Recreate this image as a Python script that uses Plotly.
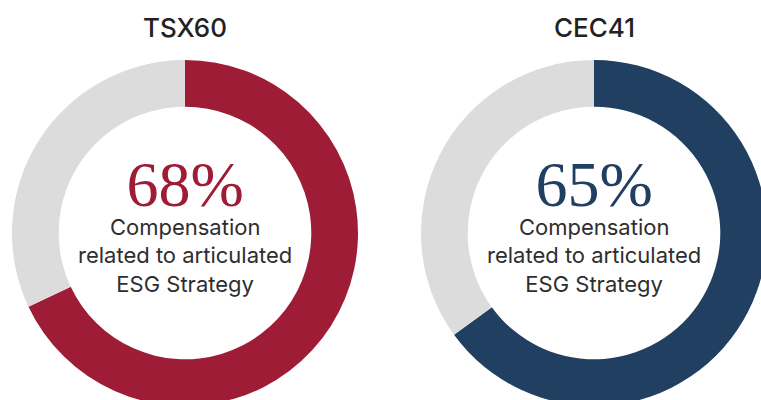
import plotly.graph_objects as go

titles = ["TSX60", "CEC41"]
percent_values = [68, 65]
main_colors = ["#9e1c35", "#213f60"]
rest_color = "#dcdcdc"
subtitle_lines = ["Compensation", "related to articulated", "ESG Strategy"]

W, H = 770, 410
R = 173
centers_px = [(185, 233), (594, 233)]

fig = go.Figure()
for i, (title, val, col) in enumerate(zip(titles, percent_values, main_colors)):
    cx, cy = centers_px[i]
    fig.add_trace(go.Pie(
        values=[val, 100 - val],
        labels=["Yes", "No"],
        marker=dict(colors=[col, rest_color], line=dict(width=0)),
        hole=0.73,
        sort=False,
        direction="clockwise",
        rotation=0,
        textinfo="none",
        hoverinfo="skip",
        showlegend=False,
        domain=dict(x=[(cx - R) / W, (cx + R) / W], y=[1 - (cy + R) / H, 1 - (cy - R) / H]),
    ))
    fig.add_annotation(x=cx / W, y=1 - 27 / H, xref="paper", yref="paper", text=title,
                       showarrow=False, font=dict(family="Inter", size=26, weight=500, color="#222222"),
                       xanchor="center", yanchor="middle")
    big = (f"<span style='font-family:Liberation Serif;font-size:64px;color:{col}'>"
           f"{val}%</span>")
    fig.add_annotation(x=cx / W, y=1 - 223 / H, xref="paper", yref="paper",
                       text="<br>".join([big] + subtitle_lines),
                       showarrow=False, font=dict(family="Inter", size=22, color="#2e2e2e"),
                       xanchor="center", yanchor="middle")

fig.update_layout(width=W, height=H, margin=dict(l=0, r=0, t=0, b=0),
                  paper_bgcolor="white", plot_bgcolor="white")

fig.write_html("out.html", config={"displayModeBar": False},
               post_script="document.body.style.margin='0';document.body.style.overflow='hidden';document.documentElement.style.overflow='hidden';")
